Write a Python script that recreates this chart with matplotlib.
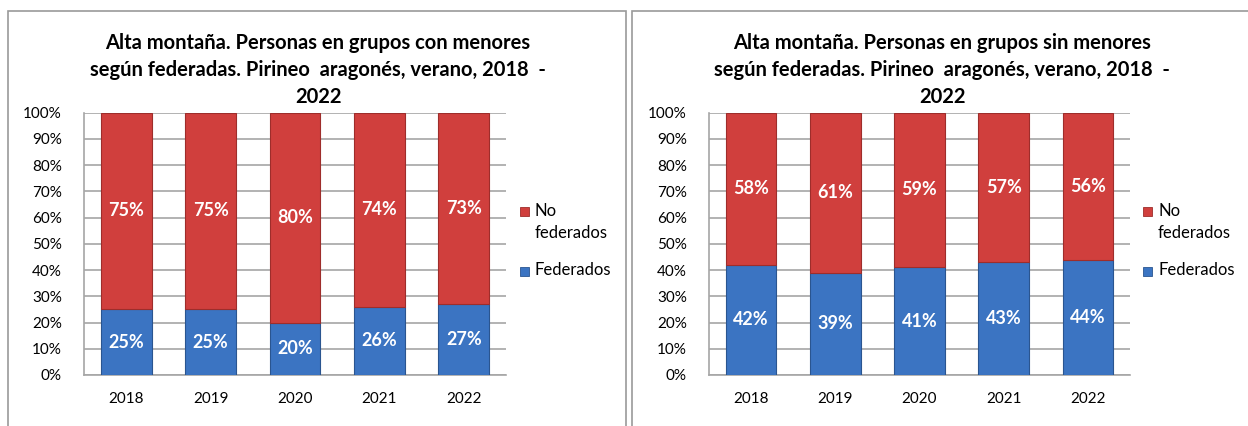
import matplotlib
matplotlib.use("Agg")
import matplotlib.pyplot as plt
from matplotlib.patches import Rectangle

plt.rcParams["font.family"] = ["Lato", "DejaVu Sans"]

years = ["2018", "2019", "2020", "2021", "2022"]

# grupos con menores
con_federados = [25, 25, 20, 26, 27]
con_no_federados = [75, 75, 80, 74, 73]

# grupos sin menores
sin_federados = [42, 39, 41, 43, 44]
sin_no_federados = [58, 61, 59, 57, 56]

titles = [
    "Alta montaña. Personas en grupos con menores\nsegún federadas. Pirineo  aragonés, verano, 2018  -\n2022",
    "Alta montaña. Personas en grupos sin menores\nsegún federadas. Pirineo  aragonés, verano, 2018  -\n2022",
]

red = "#D03F3D"
blue = "#3B74C2"
grid_col = "#A6A6A6"

W, H = 1248, 426
fig = plt.figure(figsize=(W / 100, H / 100), dpi=100)


def px_axes(x0, y0, x1, y1):
    return fig.add_axes([x0 / W, 1 - y1 / H, (x1 - x0) / W, (y1 - y0) / H])


def fx(x):
    return x / W


def fy(y):
    return 1 - y / H


# panel frames
for x0, x1 in [(8, 626), (632, 1250)]:
    fig.patches.append(Rectangle((fx(x0), -0.05), (x1 - x0) / W, 1.05 - 10.5 / H,
                                 transform=fig.transFigure, fill=False,
                                 edgecolor="#9A9A9A", linewidth=1.2))

panels = [
    (84, 506, con_federados, con_no_federados, titles[0], 318, 520),
    (709, 1130, sin_federados, sin_no_federados, titles[1], 942, 1143),
]

for x0, x1, fed, nofed, title, tx, lx in panels:
    ax = px_axes(x0, 112.5, x1, 375)
    pos = range(len(years))
    ax.bar(pos, fed, width=0.6, color=blue, edgecolor="#2A5590",
           linewidth=0.8, zorder=3)
    ax.bar(pos, nofed, width=0.6, bottom=fed, color=red, edgecolor="#9E2D2B",
           linewidth=0.8, zorder=3)
    for i in pos:
        ax.text(i, fed[i] / 2, f"{fed[i]}%", ha="center", va="center",
                color="white", fontsize=13, fontweight="bold", zorder=4)
        ax.text(i, fed[i] + nofed[i] / 2, f"{nofed[i]}%", ha="center", va="center",
                color="white", fontsize=13, fontweight="bold", zorder=4)

    ax.set_xlim(-0.5, len(years) - 0.5)
    ax.set_ylim(0, 100)
    ax.set_yticks(range(0, 101, 10))
    ax.set_yticklabels([f"{v}%" for v in range(0, 101, 10)])
    ax.set_xticks(list(pos))
    ax.set_xticklabels(years)
    ax.tick_params(axis="y", length=0, pad=16, labelsize=11)
    ax.tick_params(axis="x", length=0, pad=12, labelsize=11)
    ax.grid(axis="y", color=grid_col, linewidth=1.2, zorder=0)
    for s in ["top", "right"]:
        ax.spines[s].set_visible(False)
    for s in ["left", "bottom"]:
        ax.spines[s].set_color(grid_col)
        ax.spines[s].set_linewidth(1.2)

    fig.text(fx(tx), fy(33), title, ha="center", va="top", fontsize=14.5,
             fontweight="bold", linespacing=1.45)

    # legend: marker squares aligned with the first line of each entry
    for label, col, edge, y in [("No\nfederados", red, "#9E2D2B", 212),
                                ("Federados", blue, "#2A5590", 271)]:
        fig.patches.append(Rectangle((fx(lx), fy(y + 4.5)), 9 / W, 9 / H,
                                     transform=fig.transFigure, facecolor=col,
                                     edgecolor=edge, linewidth=0.6))
        fig.text(fx(lx + 15), fy(y - 9), label, ha="left", va="top",
                 fontsize=12, linespacing=1.45)

fig.savefig("out.png", dpi=100)
